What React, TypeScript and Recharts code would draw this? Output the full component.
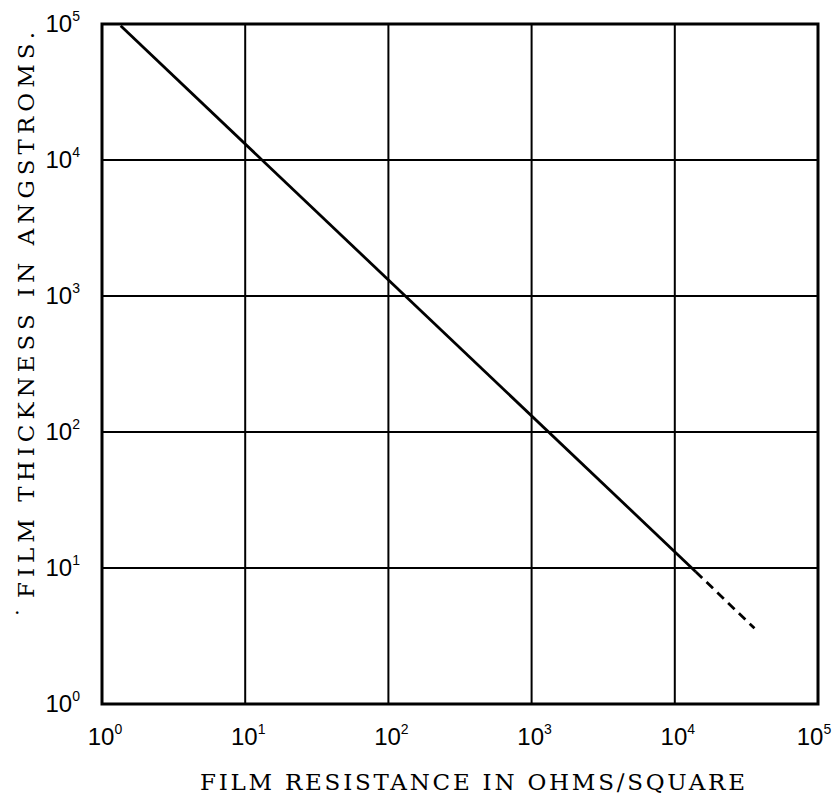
import { CartesianGrid, Line, LineChart, ReferenceArea, XAxis, YAxis } from "recharts";

// film resistance (ohms/square) vs thickness (angstroms)
const solidResistance = [1.35, 14000];
const solidThickness = [97000, 9.4];
const dashedResistance = [14000, 36000];
const dashedThickness = [9.4, 3.6];
const decadeTicks = [1, 10, 100, 1000, 10000, 100000];

const solidData = solidResistance.map((r, i) => ({ r, t: solidThickness[i] }));
const dashedData = dashedResistance.map((r, i) => ({ r, t: dashedThickness[i] }));

const TICK_FONT = "'Liberation Sans', Arial, sans-serif";
const TITLE_FONT = "'DejaVu Serif', 'Liberation Serif', serif";

function exp(v: number) {
  return Math.round(Math.log10(v));
}

function XTick({ x, y, payload }: any) {
  return (
    <text x={x + 3} y={y + 33} textAnchor="middle" fontFamily={TICK_FONT} fontSize={24} fill="#000">
      10
      <tspan dy={-11} fontSize={14}>
        {exp(payload.value)}
      </tspan>
    </text>
  );
}

function YTick({ x, y, payload }: any) {
  return (
    <text x={x - 14} y={y + 8} textAnchor="end" fontFamily={TICK_FONT} fontSize={24} fill="#000">
      10
      <tspan dy={-11} fontSize={14}>
        {exp(payload.value)}
      </tspan>
    </text>
  );
}

export default function App() {
  return (
    <div style={{ position: "absolute", left: 0, top: 0, width: 835, height: 799, background: "#fff" }}>
      <LineChart width={835} height={799} margin={{ top: 24, right: 17, bottom: 35, left: 22 }}>
        <CartesianGrid stroke="#000" strokeWidth={2} />
        <XAxis
          dataKey="r"
          type="number"
          scale="log"
          domain={[1, 100000]}
          ticks={decadeTicks}
          allowDataOverflow
          height={60}
          tick={<XTick />}
          tickLine={false}
          axisLine={false}
        />
        <YAxis
          dataKey="t"
          type="number"
          scale="log"
          domain={[1, 100000]}
          ticks={decadeTicks}
          allowDataOverflow
          width={80}
          tick={<YTick />}
          tickLine={false}
          axisLine={false}
        />
        <ReferenceArea x1={1} x2={100000} y1={1} y2={100000} fill="none" stroke="#000" strokeWidth={3} />
        <Line
          data={solidData}
          dataKey="t"
          type="linear"
          stroke="#000"
          strokeWidth={2.8}
          dot={false}
          isAnimationActive={false}
        />
        <Line
          data={dashedData}
          dataKey="t"
          type="linear"
          stroke="#000"
          strokeWidth={2.8}
          strokeDasharray="9 6"
          dot={false}
          isAnimationActive={false}
        />
      </LineChart>
      <svg width={835} height={799} style={{ position: "absolute", left: 0, top: 0, pointerEvents: "none" }}>
        <text
          x={200}
          y={790}
          fontFamily={TITLE_FONT}
          fontSize={23}
          textLength={545}
          lengthAdjust="spacing"
          fill="#000"
        >
          FILM RESISTANCE IN OHMS∕SQUARE
        </text>
        <text
          transform="translate(34, 598) rotate(-90)"
          fontFamily={TITLE_FONT}
          fontSize={23}
          textLength={566}
          lengthAdjust="spacing"
          fill="#000"
        >
          FILM THICKNESS IN ANGSTROMS.
        </text>
        <text x={14} y={614} fontFamily={TITLE_FONT} fontSize={20} fill="#000">
          .
        </text>
      </svg>
    </div>
  );
}
